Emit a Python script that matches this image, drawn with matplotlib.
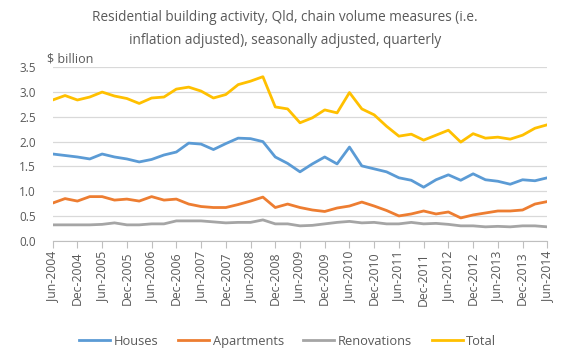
import matplotlib
matplotlib.use("Agg")
import matplotlib.pyplot as plt
from matplotlib.lines import Line2D

# quarterly, Jun-2004 .. Jun-2014 ($ billion)
houses = [1.75, 1.72, 1.69, 1.65, 1.75, 1.69, 1.65, 1.59, 1.64, 1.73,
          1.79, 1.97, 1.95, 1.84, 1.96, 2.07, 2.06, 2.00, 1.69, 1.56,
          1.39, 1.55, 1.69, 1.55, 1.89, 1.51, 1.45, 1.39, 1.27, 1.22,
          1.08, 1.23, 1.33, 1.22, 1.35, 1.23, 1.20, 1.14, 1.23, 1.21,
          1.27]
apartments = [0.76, 0.85, 0.80, 0.89, 0.89, 0.82, 0.84, 0.80, 0.89, 0.82,
              0.84, 0.74, 0.69, 0.67, 0.67, 0.73, 0.80, 0.88, 0.67, 0.74,
              0.67, 0.62, 0.59, 0.66, 0.70, 0.78, 0.70, 0.61, 0.50, 0.54,
              0.60, 0.54, 0.58, 0.46, 0.52, 0.56, 0.60, 0.60, 0.62, 0.74,
              0.79]
renovations = [0.32, 0.32, 0.32, 0.32, 0.33, 0.36, 0.32, 0.32, 0.34, 0.34,
               0.40, 0.40, 0.40, 0.38, 0.36, 0.37, 0.37, 0.42, 0.34, 0.34,
               0.30, 0.31, 0.34, 0.37, 0.39, 0.36, 0.37, 0.34, 0.34, 0.37,
               0.34, 0.35, 0.33, 0.30, 0.30, 0.28, 0.29, 0.28, 0.30, 0.30,
               0.28]
total = [2.84, 2.93, 2.84, 2.90, 3.00, 2.92, 2.87, 2.77, 2.88, 2.90,
         3.06, 3.10, 3.02, 2.88, 2.95, 3.15, 3.22, 3.31, 2.70, 2.66,
         2.38, 2.48, 2.64, 2.58, 2.99, 2.66, 2.54, 2.31, 2.11, 2.15,
         2.03, 2.13, 2.23, 1.99, 2.16, 2.07, 2.09, 2.05, 2.13, 2.27,
         2.34]
series_names = ["Houses", "Apartments", "Renovations", "Total"]
series_colors = ["#5B9BD5", "#ED7D31", "#A5A5A5", "#FFC000"]

labels = []
for i in range(len(total)):
    q = ["Jun", "Sep", "Dec", "Mar"][i % 4]
    year = 2004 + (i + 2) // 4 if q == "Mar" else 2004 + i // 4
    labels.append(f"{q}-{year}")

text_color = "#595959"
plt.rcParams["font.family"] = ["Open Sans", "DejaVu Sans"]

fig = plt.figure(figsize=(5.64, 3.61), dpi=100)
ax = fig.add_axes([0.0934, 0.3332, 0.8770, 0.4804])

x = list(range(len(total)))
for values, name, color in zip([houses, apartments, renovations, total], series_names, series_colors):
    ax.plot(x, values, color=color, lw=2.0, solid_joinstyle="round", label=name)

ax.set_xlim(0, len(total) - 1)
ax.set_ylim(0, 3.5)
ax.set_yticks([i * 0.5 for i in range(8)])
ax.set_yticklabels([f"{i * 0.5:.1f}" for i in range(8)], fontsize=8.5, color=text_color)
ax.yaxis.grid(True, color="#D9D9D9", lw=0.9)
ax.set_axisbelow(True)
ax.tick_params(axis="y", length=0, pad=12)

ticks = x[::2]
ax.set_xticks(ticks)
ax.set_xticklabels([labels[i] for i in ticks], rotation=90, fontsize=8.8, color=text_color)
ax.tick_params(axis="x", length=5, color="#BFBFBF", pad=3)

for side in ["top", "right", "left"]:
    ax.spines[side].set_visible(False)
ax.spines["bottom"].set_color("#BFBFBF")

fig.text(0.083, 0.837, "$ billion", fontsize=9, color=text_color, ha="left", va="center")
fig.text(0.505, 0.972, "Residential building activity, Qld, chain volume measures (i.e.\n"
         "inflation adjusted), seasonally adjusted, quarterly",
         fontsize=9.8, color=text_color, ha="center", va="top", linespacing=1.7)

handles = [Line2D([], [], color=c, lw=2.0) for c in series_colors]
fig.legend(handles, series_names, loc="center", bbox_to_anchor=(0.51, 0.055), ncol=4,
           frameon=False, fontsize=9.3, handlelength=2.4, handletextpad=0.3, columnspacing=1.5,
           labelcolor=text_color)

fig.savefig("out.png", dpi=100)
